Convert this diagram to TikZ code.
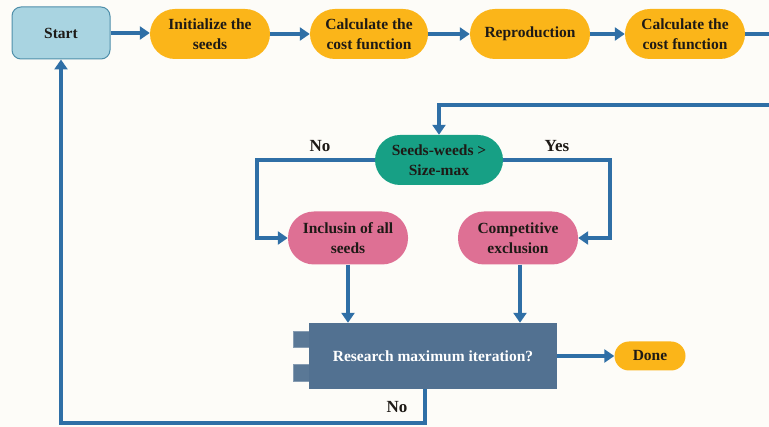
\documentclass[tikz,border=0pt]{standalone}
\usepackage{fontspec}
\setmainfont{Liberation Serif}
\usetikzlibrary{arrows.meta}
\definecolor{bg}{HTML}{FDFCF8}
\definecolor{arr}{HTML}{2F6FA6}
\definecolor{orng}{HTML}{FBB519}
\definecolor{pink}{HTML}{DE7094}
\definecolor{teal}{HTML}{17A085}
\definecolor{startfill}{HTML}{A9D4E1}
\definecolor{startdraw}{HTML}{4F8FAA}
\definecolor{boxfill}{HTML}{527191}
\definecolor{tabfill}{HTML}{5A7896}
\definecolor{txt}{HTML}{1E1A16}
\begin{document}
\begin{tikzpicture}[x=1pt,y=-1pt,
  font=\fontsize{15.5}{19.5}\selectfont\bfseries,
  pill/.style={rectangle, rounded corners=25pt, minimum width=120pt, minimum height=50pt, align=center, text=txt, inner sep=2pt},
  ora/.style={pill, fill=orng},
  pnk/.style={pill, fill=pink, minimum height=53pt, rounded corners=26pt},
  flow/.style={draw=arr, line width=3.8pt, -{Triangle[length=10pt,width=13pt]}},
  plain/.style={draw=arr, line width=3.8pt},
  lbl/.style={text=txt, font=\fontsize{17}{19}\selectfont\bfseries}]
\fill[bg] (0,0) rectangle (769,427);
\useasboundingbox (0,0) rectangle (769,427);

\node[rectangle, rounded corners=9pt, fill=startfill, draw=startdraw, line width=1pt, minimum width=98pt, minimum height=52pt, text=txt] (start) at (61,33) {Start};
\node[ora] (init) at (210,34) {Initialize the\\seeds};
\node[ora, minimum width=118pt] (cost1) at (369,34) {Calculate the\\cost function};
\node[ora] (repro) at (530,34) {Reproduction};
\node[ora] (cost2) at (685,34) {Calculate the\\cost function};
\node[pill, fill=teal, minimum width=128pt] (sw) at (439,160) {Seeds-weeds >\\Size-max};
\node[pnk] (incl) at (348,238) {Inclusin of all\\seeds};
\node[pnk] (comp) at (518,238) {Competitive\\exclusion};

% tabs of the research box
\fill[tabfill, draw=boxfill!70!white, line width=0.6pt] (293,331) rectangle (327,347);
\fill[tabfill, draw=boxfill!70!white, line width=0.6pt] (293,364) rectangle (327,381);
\node[rectangle, fill=boxfill, minimum width=248pt, minimum height=66pt, text=white] (res) at (433,356) {Research maximum iteration?};
\node[pill, fill=orng, rounded corners=14.5pt, minimum width=71pt, minimum height=29pt] (done) at (650,356) {Done};

\coordinate (outR) at (769,34);
\coordinate (inR) at (769,105);
\coordinate (c1) at (61,423);

\draw[flow] (start.east) -- (start.east -| init.west);
\draw[flow] (init) -- (cost1);
\draw[flow] (cost1) -- (repro);
\draw[flow] (repro) -- (cost2);
\draw[plain] (cost2) -- (outR);
\draw[flow] (inR) -| (sw.north);
\draw[flow] (sw.west) -- ++(-118,0) |- (incl.west);
\draw[flow] (sw.east) -- ++(107,0) |- (comp.east);
\draw[flow] (incl.south) -- (incl.south |- res.north);
\draw[flow] ([xshift=2pt]comp.south) -- ([xshift=2pt]comp.south |- res.north);
\draw[flow] (res.east) -- (done.west);
\draw[flow] ([xshift=-8pt]res.south) |- (c1) -- (start.south);

\node[lbl] (no1) at (320,146) {No};
\node[lbl] (yes) at (557,146) {Yes};
\node[lbl] (no2) at (397,407) {No};
\end{tikzpicture}
\end{document}
